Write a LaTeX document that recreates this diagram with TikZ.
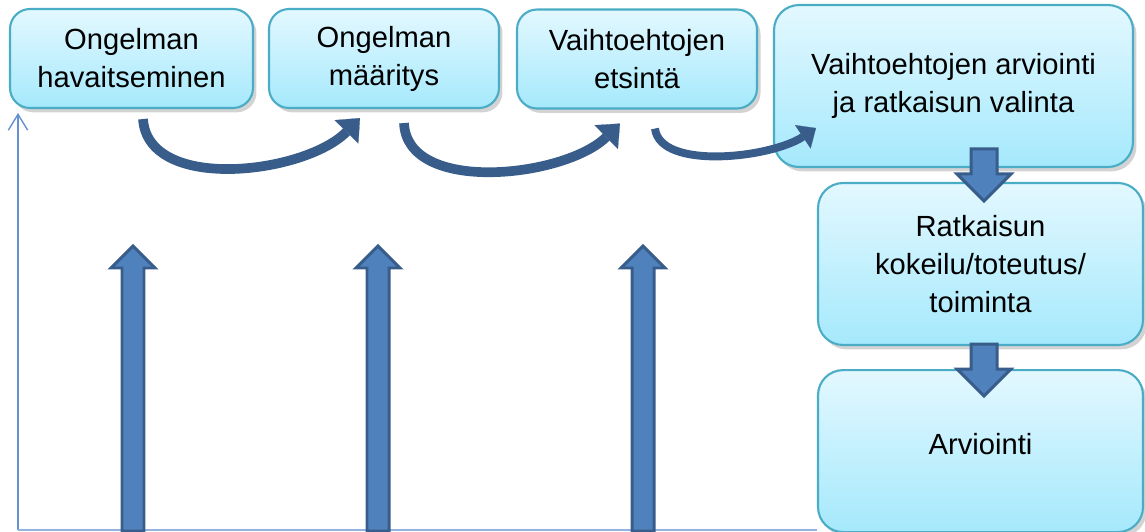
\documentclass[tikz,border=0pt]{standalone}
\usepackage{fontspec}
\setmainfont{Liberation Sans}
\usetikzlibrary{positioning,calc,arrows.meta,shadows}
\definecolor{boxtop}{RGB}{227,248,255}
\definecolor{boxbot}{RGB}{165,233,252}
\definecolor{boxline}{RGB}{75,172,198}
\definecolor{arrowfill}{RGB}{79,129,189}
\definecolor{arrowline}{RGB}{56,93,138}
\definecolor{axisblue}{RGB}{100,145,210}

\begin{document}
\begin{tikzpicture}[x=0.02cm,y=-0.02cm,node distance=0.34cm]
  \tikzstyle{vaihe}=[rectangle,rounded corners=0.4cm,draw=boxline,line width=1.2pt,top color=boxtop,bottom color=boxbot,align=center,inner sep=0pt,font=\fontsize{16.6}{21.6}\selectfont,drop shadow={opacity=0.35,shadow xshift=2pt,shadow yshift=-2.5pt}]
  \tikzstyle{nuoli}=[draw=arrowline,line width=1.7pt,fill=arrowfill,line join=miter]
  \tikzstyle{kaari}=[draw=arrowline,line width=5.5pt,-{Triangle[width=19pt,length=11pt,line width=0.1pt]}]

  \useasboundingbox (0,0) rectangle (1145,531);

  % vaiheet
  \node[vaihe,minimum width=4.86cm,minimum height=1.98cm] (b1) at (131.5,58.5) {Ongelman\\havaitseminen};
  \node[vaihe,minimum width=4.6cm,minimum height=1.98cm] (b2) at (384,58.5) {Ongelman\\määritys};
  \node[vaihe,minimum width=4.8cm,minimum height=1.98cm] (b3) at (637,59) {Vaihtoehtojen\\etsintä};
  \node[vaihe,rounded corners=0.5cm,minimum width=7.18cm,minimum height=3.24cm] (b4) at (953.5,86) {Vaihtoehtojen arviointi\\ja ratkaisun valinta};
  \node[vaihe,rounded corners=0.5cm,minimum width=6.5cm,minimum height=3.24cm] (b5) at (980.5,264) {Ratkaisun\\kokeilu/toteutus/\\toiminta};
  \node[vaihe,rounded corners=0.5cm,minimum width=6.5cm,minimum height=3.24cm,below=0.46cm of b5] (b6) {\raisebox{0.28cm}{Arviointi}};

  % akselit
  \coordinate (origo) at (18,530);
  \coordinate (ylos) at (18,113);
  \draw[axisblue,line width=0.8pt,-{Straight Barb[length=9pt,width=11pt]}] (origo) -- (ylos);
  \draw[axisblue!70,line width=0.8pt] (origo) -- (origo -| b6.west);

  % nuolet ylos
  \coordinate (p1) at (133,531);
  \coordinate (p2) at (378,531);
  \coordinate (p3) at (643,531);
  \draw[nuoli,shift={(p1)}] (-11,0) -- (-11,-263) -- (-22,-263) -- (0,-285) -- (22,-263) -- (11,-263) -- (11,0) -- cycle;
  \draw[nuoli,shift={(p2)}] (-11,0) -- (-11,-263) -- (-22,-263) -- (0,-285) -- (22,-263) -- (11,-263) -- (11,0) -- cycle;
  \draw[nuoli,shift={(p3)}] (-11,0) -- (-11,-263) -- (-22,-263) -- (0,-285) -- (22,-263) -- (11,-263) -- (11,0) -- cycle;

  % nuolet alas
  \draw[nuoli,shift={($(b5.north)+(3.5,0)$)}] (-13,-33) -- (13,-33) -- (13,-8) -- (27,-8) -- (0,19) -- (-27,-8) -- (-13,-8) -- cycle;
  \draw[nuoli,shift={($(b6.north)+(3.5,0)$)}] (-13,-25) -- (13,-25) -- (13,0) -- (27,0) -- (0,27) -- (-27,0) -- (-13,0) -- cycle;

  % kaaret
  \draw[kaari] ($(b1.south)+(11.5,10)$) .. controls +(5,74) and +(-55,56) .. ($(b2.south)+(-24,9)$);
  \draw[kaari] ($(b2.south)+(20,14)$) .. controls +(3,72) and +(-55,54) .. ($(b3.south)+(-17,14)$);
  \draw[kaari,line width=4.5pt,-{Triangle[width=16pt,length=9pt,line width=0.1pt]}] ($(b3.south)+(18,19)$) .. controls +(5,42) and +(-45,30) .. ($(b4.south west)+(43,-40)$);
\end{tikzpicture}
\end{document}
